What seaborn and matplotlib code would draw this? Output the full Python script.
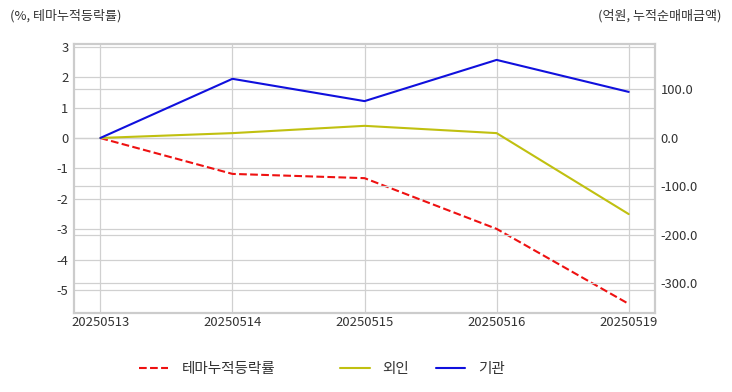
import matplotlib
matplotlib.use("Agg")
import matplotlib.pyplot as plt
import seaborn as sns
import pandas as pd

# chart data
dates = ["20250513", "20250514", "20250515", "20250516", "20250519"]
theme_rate = [0.0, -1.18, -1.32, -2.99, -5.46]     # %, left axis
foreign_net = [0.0, 10.0, 25.0, 10.0, -157.0]      # 억원, right axis
inst_net = [0.0, 122.0, 76.0, 161.0, 95.0]         # 억원, right axis

left_ticks = [-5, -4, -3, -2, -1, 0, 1, 2, 3]
right_ticks = [-300, -200, -100, 0, 100]

sns.set_theme(style="whitegrid")
plt.rcParams["font.family"] = ["Noto Sans CJK KR", "DejaVu Sans"]

df = pd.DataFrame({
    "pos": range(len(dates)),
    "theme": theme_rate,
    "foreign": foreign_net,
    "inst": inst_net,
})

fig = plt.figure(figsize=(7.32, 3.92), dpi=100)
ax = fig.add_axes([0.101, 0.2015, 0.794, 0.6865])
ax2 = ax.twinx()

grid_kw = dict(color="#d0d0d0", linewidth=0.9)
ax.grid(True, **grid_kw)
ax2.grid(True, axis="y", **grid_kw)

sns.lineplot(data=df, x="pos", y="theme", ax=ax, color="#ee1111",
             linestyle="--", linewidth=1.5, label="테마누적등락률", legend=False)
sns.lineplot(data=df, x="pos", y="foreign", ax=ax2, color="#c0c010",
             linewidth=1.5, label="외인", legend=False)
sns.lineplot(data=df, x="pos", y="inst", ax=ax2, color="#1010dd",
             linewidth=1.5, label="기관", legend=False)

ax.set_xlim(-0.2, 4.2)
ax.set_ylim(-5.76, 3.1)
ax2.set_ylim(-361, 194)
ax.set_xticks(list(df["pos"]))
ax.set_xticklabels(dates)
ax.set_yticks(left_ticks)
ax.set_yticklabels([str(t) for t in left_ticks])
ax2.set_yticks(right_ticks)
ax2.set_yticklabels([f"{t:.1f}" for t in right_ticks])
ax.set_xlabel("")
ax.set_ylabel("")
ax2.set_ylabel("")

for a in (ax, ax2):
    a.tick_params(labelsize=9.4, labelcolor="#333333", length=0)
    for s in a.spines.values():
        s.set_color("#cccccc")
        s.set_linewidth(1.5)
ax.tick_params(axis="x", pad=2)
ax.tick_params(axis="y", pad=4)
ax2.tick_params(axis="y", pad=4)

fig.text(0.013, 0.96, "(%, 테마누적등락률)", fontsize=9.4, color="#333333",
         ha="left", va="center")
fig.text(0.986, 0.96, "(억원, 누적순매매금액)", fontsize=9.4, color="#333333",
         ha="right", va="center")

# legend entries placed one by one, as in the reference
handles, labels = [], []
for a in (ax, ax2):
    h, l = a.get_legend_handles_labels()
    handles += h
    labels += l
for h, l, x in zip(handles, labels, [0.190, 0.465, 0.595]):
    fig.legend([h], [l], loc="center left", bbox_to_anchor=(x, 0.058),
               frameon=False, fontsize=10.5, handlelength=2.0,
               handletextpad=0.9, borderpad=0, borderaxespad=0,
               labelcolor="#333333")

fig.savefig("out.png", dpi=100)
